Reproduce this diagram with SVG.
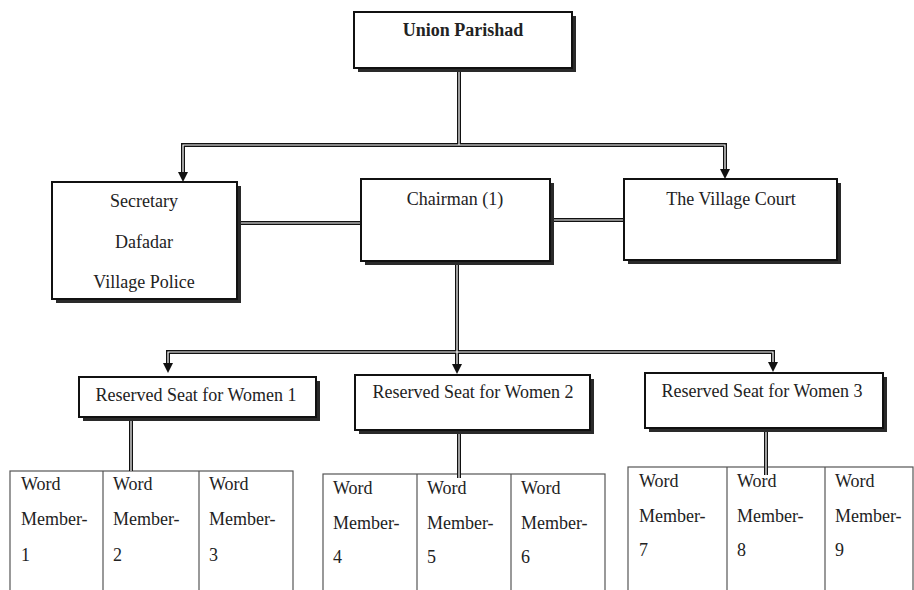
<svg xmlns="http://www.w3.org/2000/svg" xmlns:xlink="http://www.w3.org/1999/xlink" width="914" height="590" viewBox="0 0 914 590">
<style>
.shadow{fill:#2a2a2a}
.box{fill:#fff;stroke:#111;stroke-width:2}
.t{font-family:"Liberation Serif","Times New Roman",serif;font-size:18px;fill:#222}
.c{text-anchor:middle}
.b{font-weight:bold}
.out{fill:none;stroke:#111;stroke-width:4}
.in{fill:none;stroke:#fff;stroke-width:1.2}
.tbl{fill:none;stroke:#555;stroke-width:1.2}
</style>
<defs>
<marker id="ah" viewBox="0 0 10 10" refX="0" refY="5" markerWidth="10" markerHeight="10" markerUnits="userSpaceOnUse" orient="auto">
<path d="M0,0 L10,5 L0,10 z" fill="#111"/>
</marker>
<path id="p1" d="M459,70 V145"/>
<path id="p2" d="M459,145 H183 V172"/>
<path id="p3" d="M459,145 H725 V169"/>
<path id="p4" d="M238,223 H361"/>
<path id="p5" d="M551,220 H624"/>
<path id="p6" d="M457,264 V364"/>
<path id="p7" d="M457,352 H168 V363"/>
<path id="p8" d="M457,352 H773 V362"/>
<path id="p9" d="M131,419 V471"/>
<path id="p10" d="M459,432 V478"/>
<path id="p11" d="M766,430 V475"/>
</defs>

<g id="tables">
<g id="table1">
<rect class="tbl" x="10" y="471" width="283" height="140"/>
<line class="tbl" x1="103" y1="471" x2="103" y2="600"/>
<line class="tbl" x1="199" y1="471" x2="199" y2="600"/>
<text class="t" x="21" y="490">Word</text><text class="t" x="21" y="525">Member-</text><text class="t" x="21" y="561">1</text>
<text class="t" x="113" y="490">Word</text><text class="t" x="113" y="525">Member-</text><text class="t" x="113" y="561">2</text>
<text class="t" x="209" y="490">Word</text><text class="t" x="209" y="525">Member-</text><text class="t" x="209" y="561">3</text>
</g>
<g id="table2">
<rect class="tbl" x="323" y="474" width="282" height="140"/>
<line class="tbl" x1="417" y1="474" x2="417" y2="600"/>
<line class="tbl" x1="511" y1="474" x2="511" y2="600"/>
<text class="t" x="333" y="494">Word</text><text class="t" x="333" y="529">Member-</text><text class="t" x="333" y="563">4</text>
<text class="t" x="427" y="494">Word</text><text class="t" x="427" y="529">Member-</text><text class="t" x="427" y="563">5</text>
<text class="t" x="521" y="494">Word</text><text class="t" x="521" y="529">Member-</text><text class="t" x="521" y="563">6</text>
</g>
<g id="table3">
<rect class="tbl" x="628" y="467" width="285" height="140"/>
<line class="tbl" x1="727" y1="467" x2="727" y2="600"/>
<line class="tbl" x1="825" y1="467" x2="825" y2="600"/>
<text class="t" x="639" y="487">Word</text><text class="t" x="639" y="522">Member-</text><text class="t" x="639" y="556">7</text>
<text class="t" x="737" y="487">Word</text><text class="t" x="737" y="522">Member-</text><text class="t" x="737" y="556">8</text>
<text class="t" x="835" y="487">Word</text><text class="t" x="835" y="522">Member-</text><text class="t" x="835" y="556">9</text>
</g>
</g>

<g id="connectors">
<use xlink:href="#p1" class="out"/>
<use xlink:href="#p2" class="out" marker-end="url(#ah)"/>
<use xlink:href="#p3" class="out" marker-end="url(#ah)"/>
<use xlink:href="#p4" class="out"/>
<use xlink:href="#p5" class="out"/>
<use xlink:href="#p6" class="out" marker-end="url(#ah)"/>
<use xlink:href="#p7" class="out" marker-end="url(#ah)"/>
<use xlink:href="#p8" class="out" marker-end="url(#ah)"/>
<use xlink:href="#p9" class="out"/>
<use xlink:href="#p10" class="out"/>
<use xlink:href="#p11" class="out"/>
<use xlink:href="#p1" class="in"/>
<use xlink:href="#p2" class="in"/>
<use xlink:href="#p3" class="in"/>
<use xlink:href="#p4" class="in"/>
<use xlink:href="#p5" class="in"/>
<use xlink:href="#p6" class="in"/>
<use xlink:href="#p7" class="in"/>
<use xlink:href="#p8" class="in"/>
<use xlink:href="#p9" class="in"/>
<use xlink:href="#p10" class="in"/>
<use xlink:href="#p11" class="in"/>
</g>

<g id="union-parishad">
<rect class="shadow" x="358" y="16" width="218" height="56"/>
<rect class="box" x="354" y="12" width="218" height="56"/>
<text class="t c b" x="463" y="36">Union Parishad</text>
</g>
<g id="secretary">
<rect class="shadow" x="56" y="186" width="185" height="117"/>
<rect class="box" x="52" y="182" width="185" height="117"/>
<text class="t c" x="144" y="207">Secretary</text>
<text class="t c" x="144" y="248">Dafadar</text>
<text class="t c" x="144" y="288">Village Police</text>
</g>
<g id="chairman">
<rect class="shadow" x="365" y="183" width="189" height="82"/>
<rect class="box" x="361" y="179" width="189" height="82"/>
<text class="t c" x="455" y="205">Chairman (1)</text>
</g>
<g id="village-court">
<rect class="shadow" x="628" y="183" width="213" height="81"/>
<rect class="box" x="624" y="179" width="213" height="81"/>
<text class="t c" x="731" y="205">The Village Court</text>
</g>
<g id="women1">
<rect class="shadow" x="83" y="381" width="237" height="40"/>
<rect class="box" x="79" y="377" width="237" height="40"/>
<text class="t c" x="196" y="401">Reserved Seat for Women 1</text>
</g>
<g id="women2">
<rect class="shadow" x="359" y="379" width="235" height="55"/>
<rect class="box" x="355" y="375" width="235" height="55"/>
<text class="t c" x="473" y="398">Reserved Seat for Women 2</text>
</g>
<g id="women3">
<rect class="shadow" x="649" y="377" width="238" height="55"/>
<rect class="box" x="645" y="373" width="238" height="55"/>
<text class="t c" x="762" y="397">Reserved Seat for Women 3</text>
</g>
</svg>
